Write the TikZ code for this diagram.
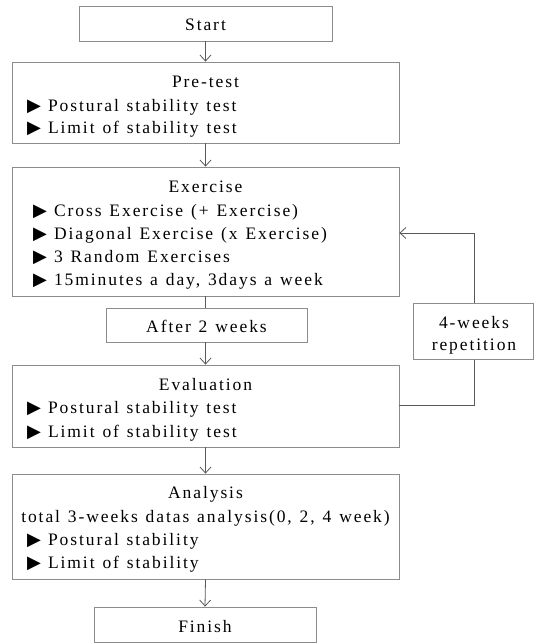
\documentclass[tikz,border=0pt]{standalone}
\usepackage{fontspec}
\setmainfont{Liberation Serif}[LetterSpace=11,WordSpace=1.25]
\newfontfamily\symf{DejaVu Sans}
\usetikzlibrary{arrows.meta}
\newcommand\tri{{\symf\fontsize{18}{18}\selectfont ▶}\hspace{7pt}}
\begin{document}
\begin{tikzpicture}[x=1pt,y=-1pt,
  box/.style={draw=black!45, line width=0.8pt, fill=white, inner sep=0pt},
  txt/.style={inner sep=0pt, font=\fontsize{17.5}{20}\selectfont, text=black},
  ln/.style={draw=black!65, line width=0.8pt},
  arr/.style={ln, -{Straight Barb[length=6pt,width=11pt]}}]
\useasboundingbox (0,0) rectangle (534,643);
% feedback loop (behind the repetition box)
\coordinate (fb1) at (474,405);
\coordinate (fb2) at (474,233);
% boxes
\node[box, minimum width=253pt, minimum height=35pt] (start) at (205.5,23.5) {};
\node[box, minimum width=387pt, minimum height=81pt] (pre) at (205.5,102.5) {};
\node[box, minimum width=387pt, minimum height=129pt] (ex) at (205.5,231.5) {};
\node[box, minimum width=201pt, minimum height=34pt] (after) at (206.5,325) {};
\node[box, minimum width=387pt, minimum height=82pt] (eval) at (205.5,406) {};
\node[box, minimum width=387pt, minimum height=105pt] (ana) at (205.5,526.5) {};
\node[box, minimum width=222pt, minimum height=35pt] (fin) at (205,624.5) {};
\draw[arr] (eval.east |- fb1) -- (fb1) -- (fb2) -- (ex.east |- fb2);
\node[box, minimum width=120.5pt, minimum height=56pt] (rep) at (473.25,331) {};
% texts
\node[txt, anchor=base] (tstart) at (205.5,30) {Start};
\node[txt, anchor=base] (tpre) at (205.5,87) {Pre-test};
\node[txt, anchor=base west] (tpre1) at (27,111) {\tri Postural stability test};
\node[txt, anchor=base west] (tpre2) at (27,133) {\tri Limit of stability test};
\node[txt, anchor=base] (tex) at (205.5,192) {Exercise};
\node[txt, anchor=base west] (tex1) at (33,216) {\tri Cross Exercise (+ Exercise)};
\node[txt, anchor=base west] (tex2) at (33,239) {\tri Diagonal Exercise (x Exercise)};
\node[txt, anchor=base west] (tex3) at (33,262) {\tri 3 Random Exercises};
\node[txt, anchor=base west] (tex4) at (33,285) {\tri 15minutes a day, 3days a week};
\node[txt, anchor=base] (tafter) at (206.5,332) {After 2 weeks};
\node[txt, anchor=base] (trep1) at (474,328) {4-weeks};
\node[txt, anchor=base] (trep2) at (474,350) {repetition};
\node[txt, anchor=base] (teval) at (205.5,390) {Evaluation};
\node[txt, anchor=base west] (teval1) at (27,413) {\tri Postural stability test};
\node[txt, anchor=base west] (teval2) at (27,437) {\tri Limit of stability test};
\node[txt, anchor=base] (tana) at (205.5,498) {Analysis};
\node[txt, anchor=base] (tana0) at (205.5,522) {total 3-weeks datas analysis(0, 2, 4 week)};
\node[txt, anchor=base west] (tana1) at (27,545) {\tri Postural stability};
\node[txt, anchor=base west] (tana2) at (27,568) {\tri Limit of stability};
\node[txt, anchor=base] (tfin) at (205,632) {Finish};
% connectors
\draw[arr] (start.south) -- (pre.north);
\draw[arr] (pre.south) -- (ex.north);
\draw[ln] (ex.south) -- (ex.south |- after.north);
\draw[arr] (after.south -| ex.south) -- (eval.north);
\draw[arr] (eval.south) -- (ana.north);
\draw[arr] (ana.south) -- (fin.south |- fin.north);
\end{tikzpicture}
\end{document}
